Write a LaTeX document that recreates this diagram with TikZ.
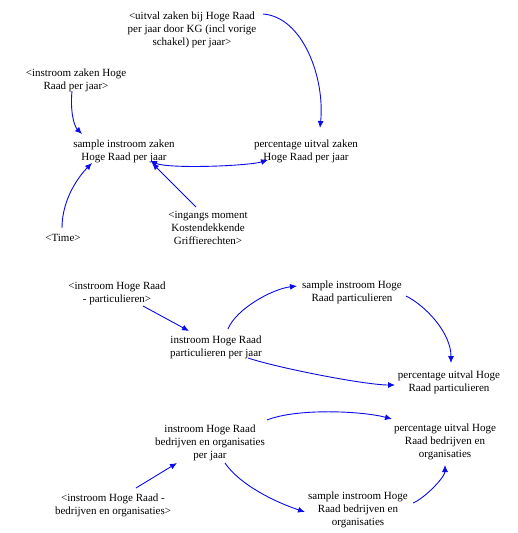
\documentclass[tikz,border=0pt]{standalone}
\usepackage{fontspec}
\setmainfont{Liberation Serif}
\usetikzlibrary{arrows.meta}
\definecolor{vblue}{RGB}{10,10,235}
\begin{document}
\begin{tikzpicture}[x=1pt,y=-1pt,
 lbl/.style={align=center,font=\fontsize{11}{13}\selectfont,inner sep=1pt},
 lnk/.style={draw=vblue,line width=0.9pt,-{Latex[length=7pt,width=6pt]}},
 lnk2/.style={draw=vblue,line width=0.9pt,{Latex[length=7pt,width=6pt]}-{Latex[length=7pt,width=6pt]}}]
\fill[white] (0,0) rectangle (518,533);
\useasboundingbox (0,0) rectangle (518,533);

\node[lbl] (uit) at (192,30) {<uitval zaken bij Hoge Raad\\per jaar door KG (incl vorige\\schakel) per jaar>};
\node[lbl] (inz) at (76,80) {<instroom zaken Hoge\\Raad per jaar>};
\node[lbl] (siz) at (124,151) {sample instroom zaken\\Hoge Raad per jaar};
\node[lbl] (puz) at (306,151) {percentage uitval zaken\\Hoge Raad per jaar};
\node[lbl] (time) at (63,238) {<Time>};
\node[lbl] (ing) at (208,228) {<ingangs moment\\Kostendekkende\\Griffierechten>};
\node[lbl] (ihp) at (117,293) {<instroom Hoge Raad\\- particulieren>};
\node[lbl] (ipj) at (216,347) {instroom Hoge Raad\\particulieren per jaar};
\node[lbl] (sip) at (352,292) {sample instroom Hoge\\Raad particulieren};
\node[lbl] (pup) at (449,382) {percentage uitval Hoge\\Raad particulieren};
\node[lbl] (ibj) at (210,443) {instroom Hoge Raad\\bedrijven en organisaties\\per jaar};
\node[lbl] (pub) at (445,442) {percentage uitval Hoge\\Raad bedrijven en\\organisaties};
\node[lbl] (ihb) at (113,505) {<instroom Hoge Raad -\\bedrijven en organisaties>};
\node[lbl] (sib) at (358,510) {sample instroom Hoge\\Raad bedrijven en\\organisaties};

\draw[lnk] ([shift={(71,-16)}]uit.center) .. controls +(40,3) and +(5,-50) .. ([shift={(14,-23)}]puz.center);
\draw[lnk] ([shift={(-4,11)}]inz.center) .. controls +(-2,20) and +(-8,-8) .. ([shift={(-42,-17)}]siz.center);
\draw[lnk2] ([shift={(26,10)}]siz.center) .. controls +(20,8) and +(-20,6) .. ([shift={(-38,9)}]puz.center);
\draw[lnk] ([shift={(-1,-10)}]time.center) .. controls +(0,-30) and +(-12,12) .. ([shift={(-32,12)}]siz.center);
\draw[lnk] ([shift={(-12,-21)}]ing.center) .. controls +(-10,-10) and +(12,12) .. ([shift={(28,12)}]siz.center);
\draw[lnk] ([shift={(26,13)}]ihp.center) -- ([shift={(-27,-16)}]ipj.center);
\draw[lnk] ([shift={(12,-18)}]ipj.center) .. controls +(8,-20) and +(-25,3) .. ([shift={(-55,-6)}]sip.center);
\draw[lnk] ([shift={(54,4)}]sip.center) .. controls +(20,10) and +(0,-30) .. ([shift={(2,-19)}]pup.center);
\draw[lnk] ([shift={(32,11)}]ipj.center) .. controls +(30,10) and +(-30,0) .. ([shift={(-54,3)}]pup.center);
\draw[lnk] ([shift={(57,-23)}]ibj.center) .. controls +(30,-12) and +(-30,-8) .. ([shift={(-53,-23)}]pub.center);
\draw[lnk] ([shift={(23,-17)}]ihb.center) -- ([shift={(-33,20)}]ibj.center);
\draw[lnk] ([shift={(15,20)}]ibj.center) .. controls +(15,22) and +(-30,-10) .. ([shift={(-53,2)}]sib.center);
\draw[lnk] ([shift={(55,-7)}]sib.center) .. controls +(12,-5) and +(0,12) .. ([shift={(0,23)}]pub.center);
\end{tikzpicture}
\end{document}
